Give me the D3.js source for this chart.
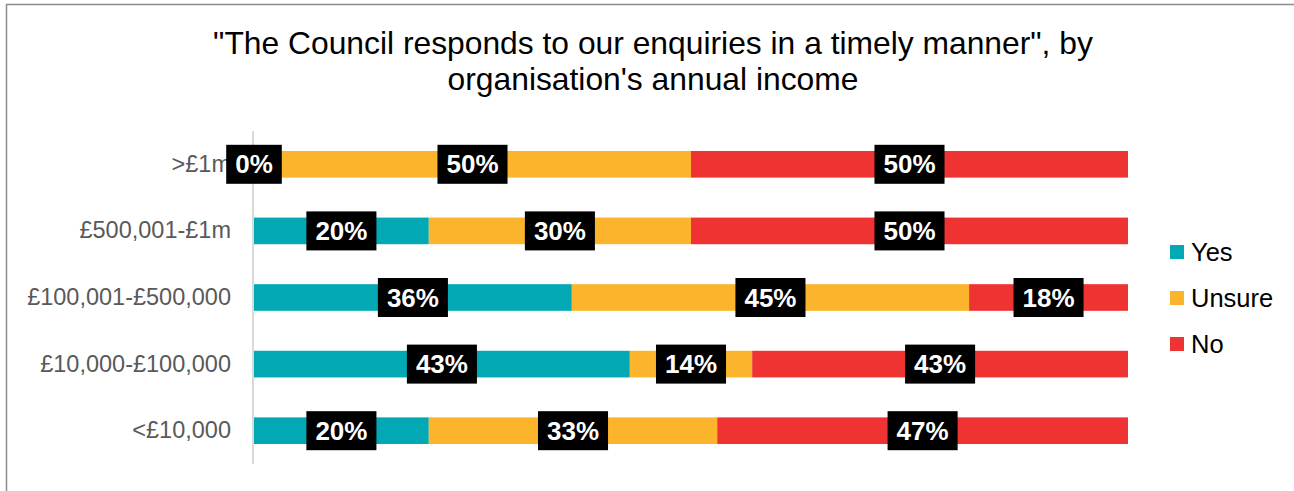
<!DOCTYPE html>
<html>
<head>
<meta charset="utf-8">
<script src="https://cdn.jsdelivr.net/npm/d3@7"></script>
<style>
  html, body { margin: 0; padding: 0; background: #fff; }
  svg { display: block; font-family: "Liberation Sans", Arial, sans-serif; }
</style>
</head>
<body>
<svg id="chart" width="1294" height="491"></svg>
<script>
// Survey responses by organisation's annual income (percent of respondents)
const categories = [">£1m", "£500,001-£1m", "£100,001-£500,000", "£10,000-£100,000", "<£10,000"];
const yesValues    = [0, 20, 36, 43, 20];
const unsureValues = [50, 30, 45, 14, 33];
const noValues     = [50, 50, 18, 43, 47];
const seriesNames  = ["Yes", "Unsure", "No"];
const seriesColors = ["#02A9B4", "#FBB42C", "#EF3333"];
const titleLines = ["\"The Council responds to our enquiries in a timely manner\", by",
                    "organisation's annual income"];

const rows = categories.map((c, i) => ({
  category: c, Yes: yesValues[i], Unsure: unsureValues[i], No: noValues[i]
}));

const svg = d3.select("#chart");

// outer frame of the chart area
svg.append("rect")
  .attr("x", 6.5).attr("y", 4.5)
  .attr("width", 1400).attr("height", 600)
  .attr("fill", "#fff")
  .attr("stroke", "#8c8c8c").attr("stroke-width", 1.5);

// title
svg.append("g").selectAll("text")
  .data(titleLines)
  .join("text")
  .attr("x", 653)
  .attr("y", (d, i) => 54 + i * 36)
  .attr("text-anchor", "middle")
  .attr("font-size", "31.8px")
  .attr("fill", "#000")
  .text(d => d);

const x = d3.scaleLinear().domain([0, 1]).range([254, 1128]);
const y = d3.scaleBand().domain(categories).range([131, 464])
  .paddingInner(0.6).paddingOuter(0.3);
const color = d3.scaleOrdinal().domain(seriesNames).range(seriesColors);

// each row is stacked to 100%
const stacked = d3.stack().keys(seriesNames).offset(d3.stackOffsetExpand)(rows);

// category axis on the left
const yAxis = svg.append("g")
  .attr("transform", "translate(253,0)")
  .call(d3.axisLeft(y).tickSize(0).tickPadding(22));
yAxis.select(".domain")
  .attr("d", "M0,131V464")
  .attr("stroke", "#d9d9d9").attr("stroke-width", 2);
yAxis.selectAll(".tick text")
  .attr("font-size", "23.5px")
  .attr("font-family", "\"Liberation Sans\", Arial, sans-serif")
  .attr("fill", "#595959");

// bars
svg.append("g").selectAll("g")
  .data(stacked)
  .join("g")
  .attr("fill", d => color(d.key))
  .selectAll("rect")
  .data(d => d)
  .join("rect")
  .attr("x", d => x(d[0]))
  .attr("y", d => y(d.data.category))
  .attr("width", d => x(d[1]) - x(d[0]))
  .attr("height", y.bandwidth());

// value labels in black boxes, centred on each segment
const labelGroup = svg.append("g");
stacked.forEach(series => {
  series.forEach(d => {
    const cx = (x(d[0]) + x(d[1])) / 2;
    const cy = y(d.data.category) + y.bandwidth() / 2;
    const g = labelGroup.append("g").attr("transform", `translate(${cx},${cy})`);
    const txt = g.append("text")
      .attr("text-anchor", "middle")
      .attr("dy", "0.35em")
      .attr("font-size", "26px")
      .attr("font-weight", "bold")
      .attr("fill", "#fff")
      .text(d.data[series.key] + "%");
    const w = txt.node().getComputedTextLength() + 18;
    g.insert("rect", "text")
      .attr("x", -w / 2).attr("y", -19.5)
      .attr("width", w).attr("height", 39)
      .attr("fill", "#000");
  });
});

// legend
const legend = svg.append("g").selectAll("g")
  .data(seriesNames)
  .join("g")
  .attr("transform", (d, i) => `translate(1170,${252 + i * 46})`);
legend.append("rect")
  .attr("x", 0).attr("y", -7)
  .attr("width", 14).attr("height", 14)
  .attr("fill", d => color(d));
legend.append("text")
  .attr("x", 21).attr("y", 9)
  .attr("font-size", "25.5px")
  .attr("fill", "#000")
  .text(d => d);
</script>
</body>
</html>
